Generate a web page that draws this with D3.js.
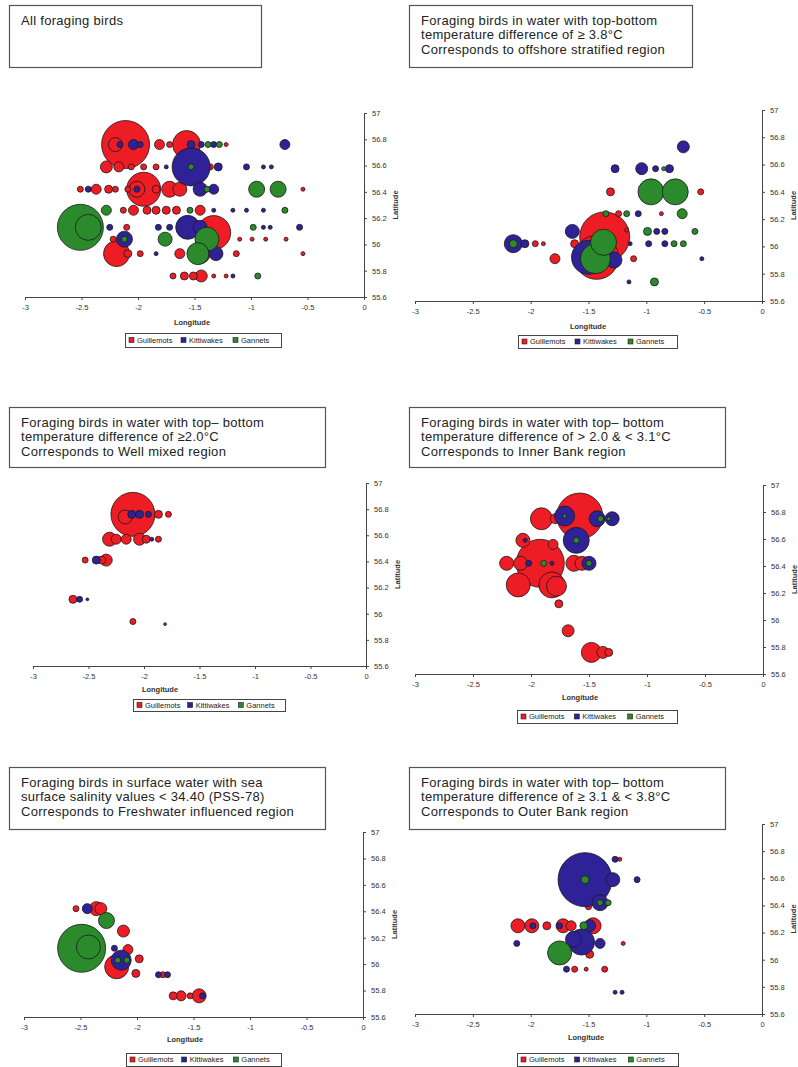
<!DOCTYPE html>
<html>
<head>
<meta charset="utf-8">
<script src="https://cdn.jsdelivr.net/npm/d3@7"></script>
<style>
  body { margin: 0; background: #fff; }
  svg { display: block; font-family: "Liberation Sans", Arial, sans-serif; }
  .axis path, .axis line { stroke: #444; }
  .axis text { fill: #333; font-size: 7.5px; }
</style>
</head>
<body>
<svg id="chart" width="798" height="1067"></svg>
<script>
// ---- shared labels and ticks ----
const speciesNames = ["Guillemots", "Kittiwakes", "Gannets"];
const speciesColours = ["#ee1c24", "#2f2196", "#2b8a2b"];
const lonTicks = [-3, -2.5, -2, -1.5, -1, -0.5, 0];
const latTicks = [55.6, 55.8, 56, 56.2, 56.4, 56.6, 56.8, 57];

const titleAll = ["All foraging birds"];
const titleStratified = [
  "Foraging birds in water with top-bottom",
  "temperature difference of \u2265 3.8\u00b0C",
  "Corresponds to offshore stratified region"
];
const titleMixed = [
  "Foraging birds in water with top\u2013 bottom",
  "temperature difference of \u22652.0\u00b0C",
  "Corresponds to Well mixed region"
];
const titleInner = [
  "Foraging birds in water with top\u2013 bottom",
  "temperature difference of > 2.0 & < 3.1\u00b0C",
  "Corresponds to Inner Bank region"
];
const titleFresh = [
  "Foraging birds in surface water with sea",
  "surface salinity values < 34.40 (PSS-78)",
  "Corresponds to Freshwater influenced region"
];
const titleOuter = [
  "Foraging birds in water with top\u2013 bottom",
  "temperature difference of \u2265 3.1 & < 3.8\u00b0C",
  "Corresponds to Outer Bank region"
];

// ---- bird counts: [longitude, latitude, birds] ----
const allGuillemots = [
  [-2.11,56.76,576],[-2.20,56.76,49],[-1.81,56.76,25],[-1.72,56.76,9],[-1.57,56.76,196],[-1.22,56.76,4],
  [-2.28,56.59,36],[-2.17,56.59,25],[-2.06,56.59,9],[-1.95,56.59,9],[-1.84,56.59,9],[-1.36,56.59,9],
  [-2.51,56.42,9],[-2.37,56.42,25],[-2.26,56.42,16],[-2.20,56.42,9],[-2.09,56.42,9],[-1.95,56.42,289],
  [-2.01,56.42,64],[-1.84,56.42,16],[-1.72,56.42,64],[-1.63,56.42,49],[-0.54,56.42,4],
  [-2.13,56.26,9],[-2.04,56.26,25],[-1.92,56.26,16],[-1.84,56.26,16],[-1.75,56.26,16],[-1.66,56.26,16],[-1.45,56.26,25],
  [-2.10,56.13,9],[-1.33,56.09,289],
  [-2.22,56.04,9],[-1.10,56.04,4],[-0.99,56.04,4],[-0.87,56.04,4],[-0.69,56.04,4],
  [-2.19,55.93,169],[-2.09,55.93,16],[-1.98,55.93,9],[-1.63,55.93,25],[-1.45,55.93,100],[-1.13,55.93,9],[-0.54,55.93,4],
  [-1.69,55.76,9],[-1.59,55.76,16],[-1.51,55.76,16],[-1.44,55.76,36],[-1.33,55.76,4],[-1.22,55.76,4]
];
const allKittiwakes = [
  [-2.16,56.76,9],[-2.04,56.76,25],[-1.98,56.76,9],[-1.53,56.76,16],[-1.44,56.76,9],[-1.33,56.76,9],[-0.70,56.76,25],
  [-1.75,56.59,4],[-1.53,56.59,361],[-1.29,56.59,16],[-1.04,56.59,9],[-0.89,56.59,4],[-0.82,56.59,4],
  [-2.44,56.42,9],[-2.01,56.42,9],[-1.45,56.42,49],[-1.33,56.42,25],
  [-1.33,56.26,4],[-1.16,56.26,4],[-1.04,56.26,4],[-0.89,56.26,4],
  [-2.25,56.13,9],[-1.82,56.13,9],[-1.72,56.13,9],[-1.56,56.13,144],[-1.45,56.13,49],[-0.89,56.13,4],[-0.83,56.13,4],[-0.57,56.13,9],
  [-2.12,56.04,64],
  [-1.84,55.93,4],[-1.31,55.93,49],
  [-1.16,55.76,4]
];
const allGannets = [
  [-1.38,56.76,9],[-1.28,56.76,9],
  [-1.53,56.59,9],
  [-1.39,56.42,9],[-0.95,56.42,64],[-0.76,56.42,64],
  [-2.28,56.26,25],[-1.54,56.26,9],[-0.70,56.26,9],
  [-2.51,56.13,529],[-2.44,56.13,169],[-0.98,56.13,9],
  [-2.12,56.04,9],[-1.76,56.04,49],[-1.39,56.04,144],
  [-1.47,55.93,121],
  [-0.94,55.76,9]
];

const stratifiedGuillemots = [
  [-1.31,56.40,16],[-0.53,56.40,9],[-1.24,56.24,9],[-0.87,56.24,4],
  [-1.96,56.02,9],[-1.89,56.02,4],[-1.62,56.02,16],[-1.36,56.07,625],[-1.43,55.92,484],
  [-1.79,55.91,25],[-1.11,55.91,9],[-1.17,56.12,4]
];
const stratifiedKittiwakes = [
  [-0.68,56.73,36],[-1.27,56.57,16],[-1.04,56.57,36],[-0.92,56.57,9],[-0.80,56.57,16],
  [-1.07,56.24,9],[-1.64,56.11,49],[-0.91,56.11,9],[-0.84,56.11,9],
  [-2.15,56.02,81],[-2.05,56.02,16],[-1.50,55.92,289],[-1.28,55.90,64],
  [-1.14,56.02,4],[-0.98,56.02,9],[-0.84,56.02,9],[-0.52,55.91,4],[-1.15,55.74,4]
];
const stratifiedGannets = [
  [-0.85,56.57,4],[-0.96,56.40,169],[-0.75,56.40,169],
  [-1.35,56.24,9],[-1.17,56.24,9],[-0.69,56.24,25],
  [-0.99,56.11,16],[-0.58,56.11,9],
  [-2.15,56.02,16],[-1.37,56.03,169],[-1.44,55.91,225],[-0.76,56.02,9],[-0.68,56.02,9],
  [-0.93,55.74,16]
];

const mixedGuillemots = [
  [-2.10,56.76,484],[-2.17,56.74,49],[-1.87,56.76,16],[-1.78,56.76,9],
  [-2.31,56.57,49],[-2.25,56.57,25],[-2.16,56.57,25],[-2.04,56.57,36],[-1.98,56.57,16],[-1.87,56.57,9],
  [-2.53,56.41,9],[-2.38,56.41,16],[-2.34,56.41,36],
  [-2.64,56.11,16],
  [-2.10,55.94,9],[-1.81,55.92,2]
];
const mixedKittiwakes = [
  [-2.11,56.76,16],[-2.04,56.76,16],[-1.96,56.76,9],[-1.93,56.57,4],
  [-2.43,56.41,16],[-2.58,56.11,9],[-2.51,56.11,2]
];
const mixedGannets = [];

const innerGuillemots = [
  [-1.58,56.77,529],[-1.91,56.75,121],[-1.79,56.75,25],
  [-2.07,56.59,49],[-1.81,56.56,25],
  [-1.92,56.42,576],[-2.21,56.42,49],[-2.09,56.42,49],[-1.63,56.42,64],[-1.56,56.42,49],
  [-2.11,56.26,144],[-1.82,56.26,169],[-1.78,56.25,100],
  [-1.76,56.12,16],[-1.68,55.92,36],
  [-1.48,55.76,100],[-1.38,55.76,36],[-1.33,55.76,16]
];
const innerKittiwakes = [
  [-1.71,56.77,100],[-1.43,56.75,64],[-1.30,56.75,49],[-1.61,56.59,169],
  [-2.02,56.42,9],[-1.82,56.42,4],[-1.50,56.42,49],[-2.05,56.59,4]
];
const innerGannets = [
  [-1.71,56.77,4],[-1.40,56.75,9],[-1.33,56.75,4],[-1.61,56.59,9],[-1.89,56.42,9],[-1.50,56.42,9]
];

const freshGuillemots = [
  [-2.54,56.42,9],[-2.36,56.42,49],[-2.32,56.42,36],
  [-2.12,56.25,36],[-2.18,55.98,144],[-2.08,56.11,25],[-1.98,56.04,16],[-2.01,55.93,16],[-1.77,55.92,9],
  [-1.68,55.76,16],[-1.61,55.76,25],[-1.53,55.76,9],[-1.45,55.76,49]
];
const freshKittiwakes = [
  [-2.44,56.42,25],[-2.14,56.03,100],[-2.20,56.12,9],[-1.81,55.92,9],[-1.73,55.92,9],[-1.42,55.76,9]
];
const freshGannets = [
  [-2.27,56.33,64],[-2.49,56.12,576],[-2.43,56.13,144],[-2.17,56.03,9],[-2.09,56.03,9]
];

const outerGuillemots = [
  [-1.23,56.74,4],[-1.50,56.39,9],
  [-2.11,56.25,49],[-1.99,56.25,49],[-1.86,56.25,16],[-1.72,56.25,49],[-1.65,56.25,25],[-1.46,56.25,64],
  [-1.20,56.12,4],[-1.49,56.04,16],
  [-1.62,55.93,9],[-1.52,55.93,4],[-1.36,55.93,9]
];
const outerKittiwakes = [
  [-1.27,56.74,9],[-1.53,56.59,729],[-1.29,56.59,49],[-1.08,56.59,9],
  [-1.40,56.42,64],[-1.49,56.25,36],[-1.98,56.25,9],[-1.75,56.25,9],
  [-2.12,56.12,9],[-1.56,56.13,169],[-1.63,56.15,64],[-1.40,56.12,25],
  [-1.69,55.93,9],[-1.27,55.76,4],[-1.21,55.76,4]
];
const outerGannets = [
  [-1.53,56.59,16],[-1.40,56.42,9],[-1.33,56.42,9],[-1.54,56.25,16],[-1.75,56.05,144]
];

// ---- page layout of the six panels ----
const panels = [
  { title: titleAll, series: [allGuillemots, allKittiwakes, allGannets],
    box: [9, 5, 252, 62], plot: [25, 364, 113, 297], xTitle: [192, 325], legend: [125, 333, 156, 14] },
  { title: titleStratified, series: [stratifiedGuillemots, stratifiedKittiwakes, stratifiedGannets],
    box: [409, 5, 283, 62], plot: [415, 762, 110, 301], xTitle: [588, 329], legend: [518, 335, 159, 13] },
  { title: titleMixed, series: [mixedGuillemots, mixedKittiwakes, mixedGannets],
    box: [9, 407, 316, 60], plot: [33, 366, 483, 666], xTitle: [160, 692], legend: [133, 699, 152, 12] },
  { title: titleInner, series: [innerGuillemots, innerKittiwakes, innerGannets],
    box: [409, 407, 316, 60], plot: [415, 763, 485, 674], xTitle: [580, 700], legend: [517, 710, 160, 13] },
  { title: titleFresh, series: [freshGuillemots, freshKittiwakes, freshGannets],
    box: [9, 767, 316, 62], plot: [24, 363, 832, 1017], xTitle: [185, 1042], legend: [126, 1053, 155, 13] },
  { title: titleOuter, series: [outerGuillemots, outerKittiwakes, outerGannets],
    box: [409, 767, 316, 62], plot: [415, 762, 824, 1014], xTitle: [586, 1040], legend: [517, 1053, 161, 13] }
];

const svg = d3.select("#chart");
// bubble area proportional to the number of birds
const radius = d3.scaleSqrt().domain([0, 900]).range([0, 30]);

panels.forEach(p => {
  const g = svg.append("g");
  const x = d3.scaleLinear().domain([-3, 0]).range([p.plot[0], p.plot[1]]);
  const y = d3.scaleLinear().domain([55.6, 57]).range([p.plot[3], p.plot[2]]);

  // title box
  g.append("rect")
    .attr("x", p.box[0] + 0.5).attr("y", p.box[1] + 0.5)
    .attr("width", p.box[2]).attr("height", p.box[3])
    .attr("fill", "#fff").attr("stroke", "#555").attr("stroke-width", 1.2);
  g.append("g").selectAll("text").data(p.title).join("text")
    .attr("x", p.box[0] + 12)
    .attr("y", (d, i) => p.box[1] + 19.5 + i * 14.5)
    .attr("font-size", "13px").attr("letter-spacing", "0.3px").attr("fill", "#222")
    .text(d => d);

  // bubbles, one layer per species, larger bubbles underneath
  p.series.forEach((rows, si) => {
    g.append("g").selectAll("circle")
      .data(rows.slice().sort((a, b) => b[2] - a[2]))
      .join("circle")
      .attr("cx", d => x(d[0]))
      .attr("cy", d => y(d[1]))
      .attr("r", d => radius(d[2]))
      .attr("fill", speciesColours[si])
      .attr("stroke", "#1a1a1a")
      .attr("stroke-width", 0.8);
  });

  // longitude axis along the bottom
  g.append("g").attr("class", "axis")
    .attr("transform", `translate(0,${y(55.6)})`)
    .call(d3.axisBottom(x).tickValues(lonTicks).tickFormat(d => String(d))
      .tickSize(3).tickSizeOuter(0).tickPadding(5));

  // latitude axis on the right, at longitude 0
  g.append("g").attr("class", "axis")
    .attr("transform", `translate(${x(0)},0)`)
    .call(d3.axisRight(y).tickValues(latTicks).tickFormat(d => String(d))
      .tickSize(3).tickSizeOuter(0).tickPadding(5));

  g.append("text")
    .attr("x", p.xTitle[0]).attr("y", p.xTitle[1])
    .attr("text-anchor", "middle").attr("font-size", "7.5px").attr("font-weight", "bold").attr("fill", "#333")
    .text("Longitude");
  g.append("text")
    .attr("transform", `translate(${x(0) + 34},${(y(55.6) + y(57)) / 2}) rotate(-90)`)
    .attr("text-anchor", "middle").attr("font-size", "7.5px").attr("font-weight", "bold").attr("fill", "#333")
    .text("Latitude");

  // legend
  const [lx, ly, lw, lh] = p.legend;
  g.append("rect").attr("x", lx + 0.5).attr("y", ly + 0.5).attr("width", lw).attr("height", lh)
    .attr("fill", "#fff").attr("stroke", "#444").attr("stroke-width", 1);
  const step = lw / speciesNames.length;
  const entry = g.append("g").selectAll("g").data(speciesNames).join("g")
    .attr("transform", (d, i) => `translate(${lx + 4 + i * step},${ly + lh / 2})`);
  entry.append("rect").attr("x", 0).attr("y", -2.5).attr("width", 5).attr("height", 5)
    .attr("fill", (d, i) => speciesColours[i]).attr("stroke", "#222").attr("stroke-width", 0.6);
  entry.append("text").attr("x", 8).attr("y", 2.7)
    .attr("font-size", "7.5px").attr("fill", "#222").text(d => d);
});
</script>
</body>
</html>
